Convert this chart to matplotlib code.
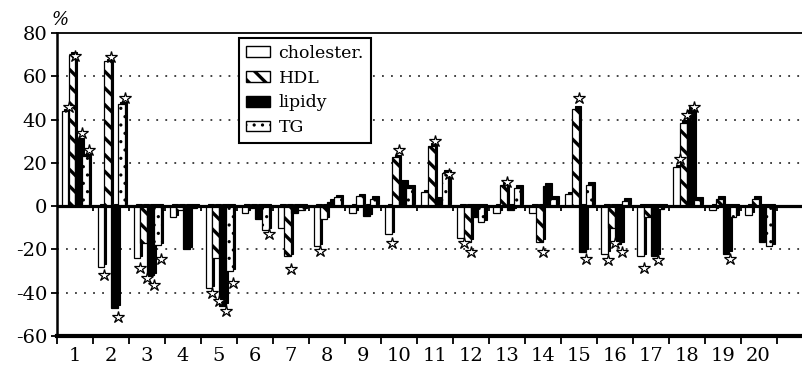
import matplotlib
matplotlib.use("Agg")
import matplotlib.pyplot as plt
from matplotlib.patches import Patch
import numpy as np

plt.rcParams['font.family'] = ['DejaVu Serif']
plt.rcParams['hatch.linewidth'] = 2.4

groups = [str(i) for i in range(1, 21)]
series = ["cholester.", "HDL", "lipidy", "TG"]

cholester = [44, -28, -24, -5, -38, -3, -10, -18.5, -3, -13, 6.5, -14.5, -3, -3, 5.5, -22, -23, 18, -2, -4]
hdl = [70, 67, -17, -2, -24, -1, -23, -6, 4.5, 22.5, 28, -16.5, 10, -16.5, 45, -10, -5, 38.5, 3.5, 3.5]
lipidy = [30.5, -47, -32, -20, -46, -6, -3, 2, -4.5, 11, 3, -5, -2, 9.5, -21, -17.5, -23, 44.5, -22, -16.5]
tg = [23, 47, -18, -1, -30, -11, -2, 4, 3.5, 8.5, 15.5, -7.5, 8.5, 3.5, 10, 2.5, -1.5, 3, -5, -18.5]

N = None
star_chol = [46, -32, -28.5, N, -40, N, N, -20.5, N, -17, N, -17, N, N, N, -25, -28.5, 22, N, N]
star_hdl = [69.5, 69, -33, N, -44, N, -29, N, N, 26, 30, -21, 11, -21, 50, -17, N, 42, N, N]
star_lip = [34, -51, -36.5, N, -48.5, N, N, N, N, N, N, N, N, N, -24.5, -21, -25, 46, -24.5, N]
star_tg = [26, 50, -24.5, N, -35.5, -13, N, N, N, N, 15, N, N, N, N, N, N, N, N, N]

yticks = [-60, -40, -20, 0, 20, 40, 60, 80]

fig = plt.figure(figsize=(8.03, 3.66), dpi=100)
ax = fig.add_axes([57/803, 30/366, 1 - 57/803 + 0.002, 303/366])

values = [cholester, hdl, lipidy, tg]
stars = [star_chol, star_hdl, star_lip, star_tg]
styles = [dict(color="white", hatch=None, hlw=1.0),
          dict(color="white", hatch="\\\\", hlw=2.4),
          dict(color="black", hatch=None, hlw=1.0),
          dict(color="white", hatch="..", hlw=1.1)]


def set_hlw(patch, lw):
    if hasattr(patch, "set_hatch_linewidth"):
        patch.set_hatch_linewidth(lw)
    else:
        patch._hatch_linewidth = lw


n = len(groups)
base = np.arange(n)
offsets = [0.22, 0.41, 0.60, 0.79]
w = 0.18
dx, dy = 0.065, 1.1

for k in range(4):
    x = base + offsets[k]
    v = np.array(values[k], dtype=float)
    st = styles[k]
    ax.bar(x + dx, v, width=w, bottom=dy, color="black", edgecolor="black",
           linewidth=0.8, zorder=2)
    bars = ax.bar(x, v, width=w, color=st["color"], hatch=st["hatch"],
                  edgecolor="black", linewidth=0.9, zorder=3)
    for b in bars:
        set_hlw(b, st["hlw"])
    sv = np.array([np.nan if s is None else s for s in stars[k]], dtype=float)
    ax.plot(x + 0.1, sv, linestyle="none", marker="*", markersize=9,
            markerfacecolor="white", markeredgecolor="black", markeredgewidth=0.9,
            zorder=6)

ax.axhline(0, color="black", lw=2.3, zorder=4)
bounds = np.arange(n + 1)
ax.vlines(bounds, -2.4, 0, color="black", lw=1.3, zorder=4)

for v in yticks:
    if v not in (yticks[0], yticks[-1], 0):
        ax.axhline(v, color="#333333", lw=1.3, linestyle=(0, (1, 4)), zorder=1)

ax.set_xlim(0, 20.78)
ax.set_ylim(-60, 80)
ax.set_yticks(yticks)
ax.set_yticklabels([str(t) for t in yticks], fontsize=14)
ax.set_xticks(bounds)
ax.set_xticklabels([])
ax.set_xticks(base + 0.5, minor=True)
ax.set_xticklabels(groups, minor=True, fontsize=14)
ax.tick_params(axis="x", which="major", direction="out", length=6, width=1.3)
ax.tick_params(axis="x", which="minor", length=0, pad=8)
ax.tick_params(axis="y", direction="out", length=4, width=1.3, pad=3)

ax.spines["right"].set_visible(False)
ax.spines["bottom"].set_linewidth(3)
ax.spines["left"].set_linewidth(1.8)
ax.spines["top"].set_linewidth(1.3)

handles = [Patch(facecolor=st["color"], hatch=st["hatch"], edgecolor="black", linewidth=1)
           for st in styles]
leg = ax.legend(handles, series, loc="upper left", bbox_to_anchor=(0.243, 0.984),
                borderaxespad=0, fontsize=12.5, fancybox=False, framealpha=1,
                edgecolor="black", handlelength=1.4, handleheight=0.55,
                labelspacing=0.45, borderpad=0.4, handletextpad=0.5)
leg.get_frame().set_linewidth(1.5)
leg.set_zorder(7)
for h, st in zip(leg.legend_handles, styles):
    set_hlw(h, st["hlw"])

fig.text(60/803, 1 - 20/366, "%", fontsize=13, style="italic", ha="center", va="center")

fig.savefig("out.png", dpi=100)
